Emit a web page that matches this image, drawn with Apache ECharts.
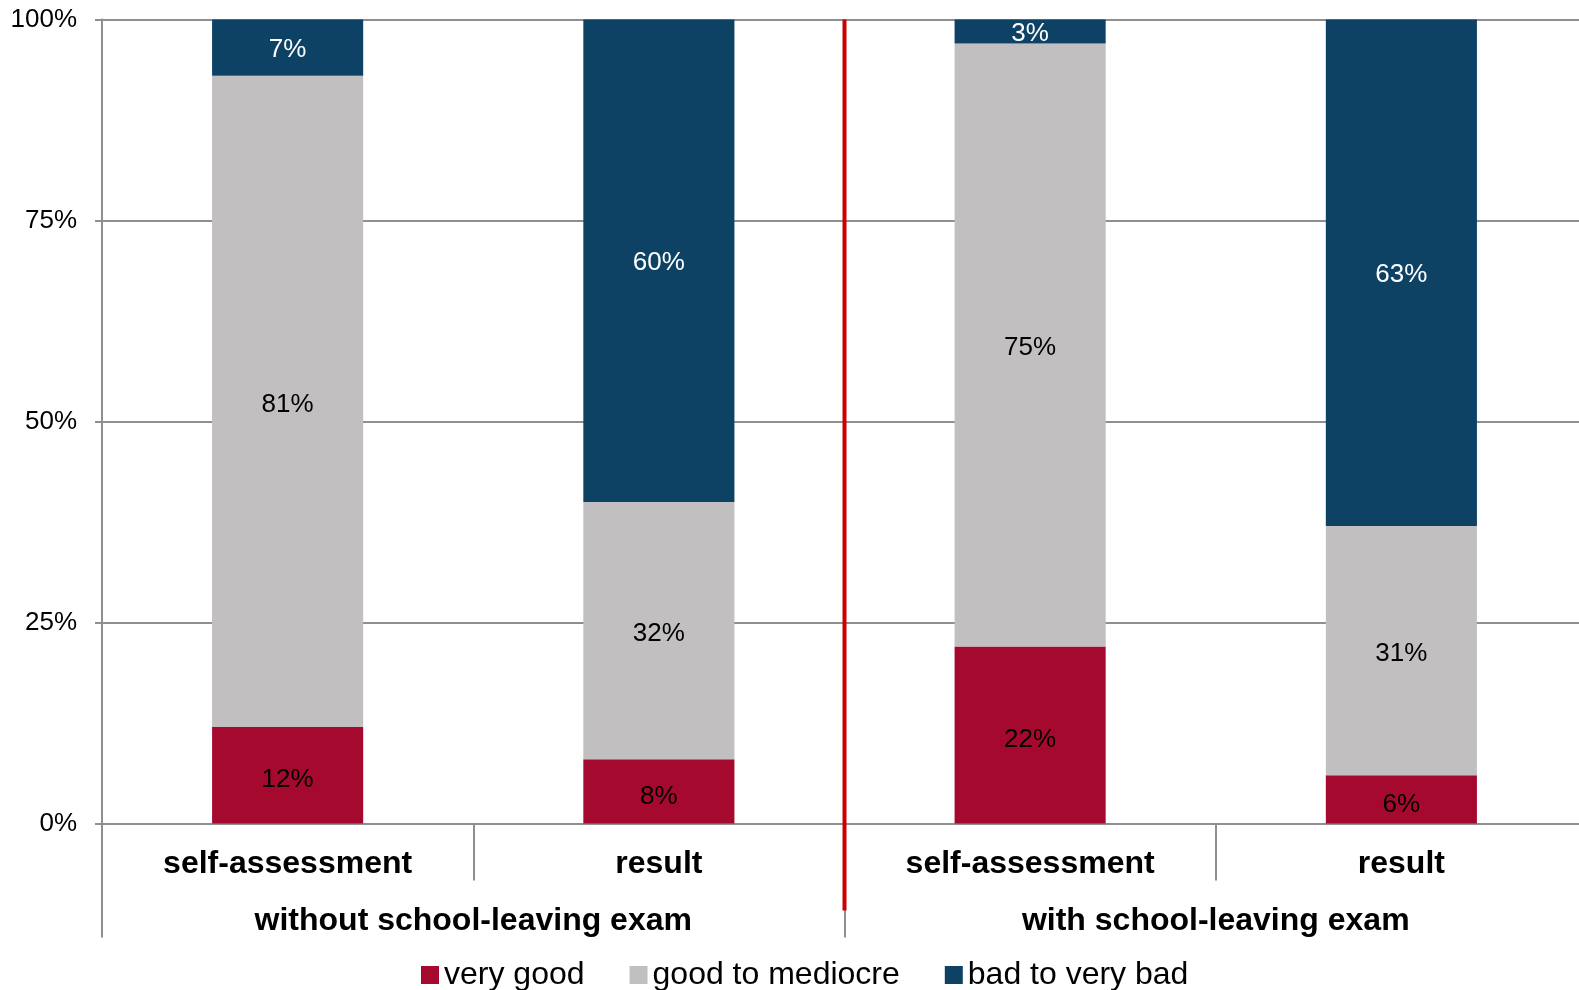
<!DOCTYPE html>
<html>
<head>
<meta charset="utf-8">
<script src="https://cdn.jsdelivr.net/npm/echarts@6/dist/echarts.min.js"></script>
<style>
  html, body { margin: 0; padding: 0; background: #fff; }
  #chart { width: 1579px; height: 990px; }
</style>
</head>
<body>
<div id="chart"></div>
<script>
// Stacked shares per assessment type, grouped by exam status
const categories = ['self-assessment', 'result', 'self-assessment', 'result'];
const groups = ['without school-leaving exam', 'with school-leaving exam'];
const seriesNames = ['very good', 'good to mediocre', 'bad to very bad'];
const veryGood = [12, 8, 22, 6];
const goodToMediocre = [81, 32, 75, 31];
const badToVeryBad = [7, 60, 3, 63];
const yTickStep = 25;

const FONT = '"Liberation Sans", Arial, sans-serif';
const GRID_COLOR = '#8f8f8f';
const COLORS = ['#A5092D', '#C1BFC0', '#0E4264'];

const chart = echarts.init(document.getElementById('chart'), null, { renderer: 'canvas' });

function barSeries(name, data, color, labelColor, labelDy) {
  return {
    name: name,
    type: 'bar',
    stack: 'total',
    xAxisIndex: 0,
    barWidth: '40.7%',
    data: data,
    itemStyle: { color: color },
    label: {
      show: true,
      position: 'inside',
      offset: [0, labelDy],
      formatter: '{c}%',
      fontFamily: FONT,
      fontSize: 26,
      color: labelColor
    }
  };
}

chart.setOption({
  animation: false,
  textStyle: { fontFamily: FONT },
  // plot area runs slightly past the right edge of the canvas
  grid: { left: 102, width: 1485, top: 19.5, height: 804, containLabel: false,
          outerBoundsMode: 'none' },
  legend: {
    data: seriesNames,
    icon: 'rect',
    itemWidth: 18,
    itemHeight: 18,
    itemGap: 45,
    left: 416,
    top: 954,
    textStyle: { fontFamily: FONT, fontSize: 32, color: '#000' }
  },
  xAxis: [
    {
      type: 'category',
      data: categories,
      position: 'bottom',
      axisLine: { show: true, lineStyle: { color: GRID_COLOR, width: 2 } },
      axisTick: { show: true, interval: 0, alignWithLabel: false, length: 57,
                  lineStyle: { color: GRID_COLOR, width: 2 } },
      axisLabel: { interval: 0, margin: 25, fontFamily: FONT, fontSize: 32,
                   fontWeight: 'bold', color: '#000' }
    },
    {
      type: 'category',
      data: groups,
      position: 'bottom',
      offset: 0,
      axisLine: { show: false },
      axisTick: { show: true, interval: 0, alignWithLabel: false, length: 114,
                  lineStyle: { color: GRID_COLOR, width: 2 } },
      axisLabel: { interval: 0, margin: 82, fontFamily: FONT, fontSize: 32,
                   fontWeight: 'bold', color: '#000' }
    }
  ],
  yAxis: {
    type: 'value',
    min: 0,
    max: 100,
    interval: yTickStep,
    axisLine: { show: true, lineStyle: { color: GRID_COLOR, width: 2 } },
    axisTick: { show: true, length: 7, lineStyle: { color: GRID_COLOR, width: 2 } },
    splitLine: { show: true, lineStyle: { color: GRID_COLOR, width: 2 } },
    axisLabel: { formatter: '{value}%', margin: 25, fontFamily: FONT, fontSize: 26, color: '#000' }
  },
  series: [
    barSeries(seriesNames[0], veryGood, COLORS[0], '#000', 5),
    barSeries(seriesNames[1], goodToMediocre, COLORS[1], '#000', 3),
    barSeries(seriesNames[2], badToVeryBad, COLORS[2], '#fff', 2)
  ]
});

// Red divider between the two exam groups, placed at the group boundary
const xLeft = chart.convertToPixel({ xAxisIndex: 0 }, 1);
const xRight = chart.convertToPixel({ xAxisIndex: 0 }, 2);
const xDiv = (xLeft + xRight) / 2;
const yTop = chart.convertToPixel({ yAxisIndex: 0 }, 100);
const yZero = chart.convertToPixel({ yAxisIndex: 0 }, 0);
chart.setOption({
  graphic: [{
    type: 'line',
    z: 100,
    shape: { x1: xDiv, y1: yTop, x2: xDiv, y2: yZero + 87 },
    style: { stroke: '#CC0000', lineWidth: 4 }
  }]
});
</script>
</body>
</html>
